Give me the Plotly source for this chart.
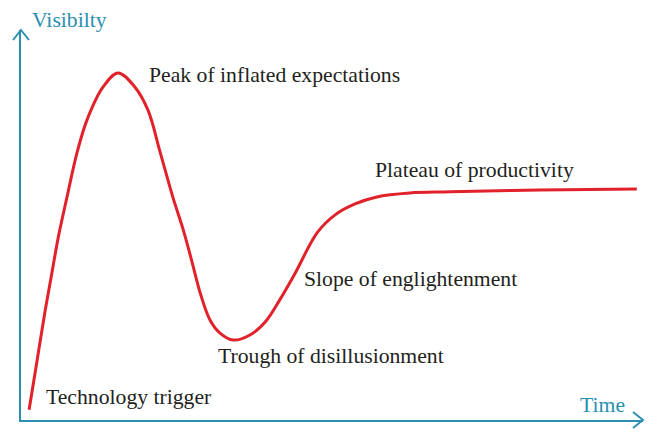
import plotly.graph_objects as go

# Hype cycle curve: time (0-100) vs visibility (0-100)
time = [1.3, 2.6, 3.9, 5.0, 6.0, 7.4, 9.0, 10.6, 13.2, 15.6, 18.3, 20.4, 22.4,
        24.4, 26.1, 27.5, 28.9, 30.4, 32.0, 34.1, 36.8, 39.4, 41.6, 44.1, 47.6,
        50.5, 53.7, 57.2, 62.5, 69.0, 83.4, 99.0]
visibility = [2.6, 15.4, 28.2, 38.0, 46.9, 57.2, 68.5, 76.9, 85.4, 89.0, 85.4, 79.5,
              68.5, 57.2, 48.7, 40.5, 32.1, 25.6, 22.3, 20.5, 21.8, 25.4, 30.8, 37.7,
              48.0, 52.6, 55.4, 57.2, 58.2, 58.5, 59.0, 59.2]

phase_labels = ["Peak of inflated expectations", "Plateau of productivity",
                "Slope of englightenment", "Trough of disillusionment",
                "Technology trigger"]
phase_x = [20.3, 56.6, 45.2, 31.4, 3.7]
phase_y = [88.5, 64.1, 36.2, 16.4, 5.9]

AXIS = "#2a8fb0"
RED = "#e2222b"
SERIF = "Liberation Serif, Times New Roman, serif"

fig = go.Figure(
    go.Scatter(x=time, y=visibility, mode="lines",
               line=dict(color=RED, width=3, shape="spline", smoothing=1.0),
               hoverinfo="skip")
)

for label, x, y in zip(phase_labels, phase_x, phase_y):
    fig.add_annotation(x=x, y=y, text=label, showarrow=False, xanchor="left",
                       yanchor="middle", font=dict(family=SERIF, size=21.7, color="#231f20"))

fig.add_annotation(x=0.015, y=1.026, xref="paper", yref="paper", text="Visibilty",
                   showarrow=False, xanchor="left", yanchor="middle",
                   font=dict(family=SERIF, size=21.7, color=AXIS))
fig.add_annotation(x=97.4, y=3.8, text="Time", showarrow=False, xanchor="right",
                   yanchor="middle", font=dict(family=SERIF, size=21.7, color=AXIS))

# open chevron arrow heads at the axis tips
fig.add_shape(type="path", xref="paper", yref="paper", xsizemode="pixel", ysizemode="pixel",
              xanchor=0, yanchor=1, path="M -8 -10 L 0 0 L 8 -10",
              line=dict(color=AXIS, width=2))
fig.add_shape(type="path", xref="paper", yref="paper", xsizemode="pixel", ysizemode="pixel",
              xanchor=1, yanchor=0, path="M -10 8 L 0 0 L -10 -8",
              line=dict(color=AXIS, width=2))

fig.update_xaxes(range=[0, 100], showline=True, linecolor=AXIS, linewidth=2,
                 showgrid=False, zeroline=False, showticklabels=False, ticks="")
fig.update_yaxes(range=[0, 100], showline=True, linecolor=AXIS, linewidth=2,
                 showgrid=False, zeroline=False, showticklabels=False, ticks="")
# the page body adds an 8px margin, so the figure is sized to fit inside it
fig.update_layout(
    width=641, height=425,
    margin=dict(l=13, r=6, t=22, b=13, autoexpand=False),
    plot_bgcolor="white", paper_bgcolor="white",
    showlegend=False,
)

fig.write_html("out.html")
